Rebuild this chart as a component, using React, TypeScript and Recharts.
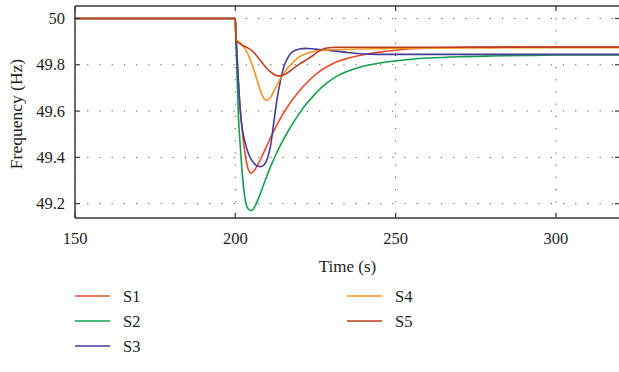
import React from 'react';
import { LineChart, Line, XAxis, YAxis, CartesianGrid } from 'recharts';

const time = [150, 200, 200.2, 200.5, 201, 201.5, 202, 203, 204, 205, 206, 207, 208, 209, 210, 211, 212, 213, 214, 215, 216, 218, 220, 222, 224, 226, 228, 230, 232, 235, 238, 242, 246, 250, 255, 260, 270, 280, 290, 300, 310, 320];

const s1 = [50, 50, 49.93, 49.85, 49.72, 49.62, 49.54, 49.42, 49.35, 49.332, 49.345, 49.368, 49.395, 49.425, 49.455, 49.485, 49.513, 49.54, 49.566, 49.59, 49.612, 49.652, 49.687, 49.718, 49.745, 49.768, 49.787, 49.802, 49.815, 49.828, 49.838, 49.849, 49.857, 49.863, 49.869, 49.872, 49.876, 49.877, 49.878, 49.878, 49.878, 49.878];
const s2 = [50, 50, 49.9, 49.78, 49.57, 49.46, 49.36, 49.225, 49.178, 49.17, 49.185, 49.215, 49.25, 49.288, 49.325, 49.36, 49.392, 49.422, 49.45, 49.477, 49.502, 49.548, 49.59, 49.628, 49.66, 49.69, 49.715, 49.736, 49.753, 49.772, 49.786, 49.8, 49.81, 49.817, 49.824, 49.829, 49.835, 49.838, 49.84, 49.842, 49.842, 49.842];
const s3 = [50, 50, 49.93, 49.85, 49.72, 49.61, 49.54, 49.467, 49.42, 49.39, 49.372, 49.362, 49.36, 49.368, 49.395, 49.45, 49.55, 49.65, 49.725, 49.785, 49.82, 49.858, 49.868, 49.871, 49.869, 49.866, 49.864, 49.861, 49.858, 49.853, 49.849, 49.846, 49.845, 49.845, 49.845, 49.845, 49.845, 49.845, 49.845, 49.845, 49.845, 49.845];
const s4 = [50, 50, 49.908, 49.905, 49.9, 49.895, 49.887, 49.87, 49.845, 49.81, 49.77, 49.725, 49.682, 49.653, 49.647, 49.66, 49.685, 49.712, 49.738, 49.76, 49.78, 49.81, 49.835, 49.848, 49.856, 49.86, 49.863, 49.865, 49.866, 49.867, 49.868, 49.869, 49.87, 49.871, 49.872, 49.872, 49.873, 49.873, 49.874, 49.874, 49.874, 49.874];
const s5 = [50, 50, 49.905, 49.9, 49.895, 49.891, 49.886, 49.879, 49.872, 49.863, 49.85, 49.833, 49.816, 49.798, 49.782, 49.769, 49.759, 49.753, 49.752, 49.756, 49.763, 49.783, 49.803, 49.82, 49.838, 49.858, 49.871, 49.875, 49.876, 49.876, 49.876, 49.876, 49.876, 49.876, 49.876, 49.876, 49.876, 49.876, 49.876, 49.876, 49.876, 49.876];

const seriesNames = ['S1', 'S2', 'S3', 'S4', 'S5'];
const seriesKeys = ['s1', 's2', 's3', 's4', 's5'];
const seriesColors = ['#ef4a2c', '#13a04c', '#433d98', '#f7931e', '#bb3f22'];

const xTicks = [150, 200, 250, 300];
const yTicks = [49.2, 49.4, 49.6, 49.8, 50];

const data = time.map((t, i) => ({ t, s1: s1[i], s2: s2[i], s3: s3[i], s4: s4[i], s5: s5[i] }));

const FONT = 'Liberation Serif';
const AXIS = '#3a3a3a';
const TXT = '#1e1e1e';

const LeftTick = (p: any) => (
  <g>
    <line x1={p.x + 10} x2={p.x + 15} y1={p.y} y2={p.y} stroke={AXIS} strokeWidth={1.2} />
    <text x={p.x} y={p.y} textAnchor="end" dominantBaseline="central" fontFamily={FONT} fontSize={16.5} fill={TXT}>
      {p.payload.value}
    </text>
  </g>
);
const RightTick = (p: any) => (
  <line x1={p.x - 5} x2={p.x} y1={p.y} y2={p.y} stroke={AXIS} strokeWidth={1.2} />
);
const BottomTick = (p: any) => (
  <g>
    <line x1={p.x} x2={p.x} y1={p.y - 5} y2={p.y} stroke={AXIS} strokeWidth={1.2} />
    <text x={p.x} y={p.y + 20} textAnchor="middle" dominantBaseline="central" fontFamily={FONT} fontSize={16.5} fill={TXT}>
      {p.payload.value}
    </text>
  </g>
);
const TopTick = (p: any) => (
  <line x1={p.x} x2={p.x} y1={p.y} y2={p.y + 5} stroke={AXIS} strokeWidth={1.2} />
);

const XLabel = (p: any) => {
  const vb = p.viewBox;
  return (
    <text x={vb.x + vb.width / 2} y={vb.y + 48} textAnchor="middle" dominantBaseline="central" fontFamily={FONT} fontSize={17} fill={TXT}>
      Time (s)
    </text>
  );
};
const YLabel = (p: any) => {
  const vb = p.viewBox;
  const cx = 16;
  const cy = vb.y + vb.height / 2 + 2;
  return (
    <text x={cx} y={cy} transform={`rotate(-90 ${cx} ${cy})`} textAnchor="middle" dominantBaseline="central" fontFamily={FONT} fontSize={17.5} fill={TXT}>
      Frequency (Hz)
    </text>
  );
};

const legendPos = [
  { lx: 75, ly: 296 },
  { lx: 75, ly: 321 },
  { lx: 75, ly: 346 },
  { lx: 347, ly: 296 },
  { lx: 347, ly: 321 },
];

export default function App() {
  return (
    <div style={{ position: 'absolute', left: 0, top: 0, width: 619, height: 372, overflow: 'hidden', background: '#fff' }}>
      <LineChart width={630} height={278} data={data} margin={{ top: 0, right: 0, left: 0, bottom: 0 }}>
        <CartesianGrid stroke="#555" strokeDasharray="1.2 11" verticalValues={xTicks} horizontalValues={yTicks} />
        <XAxis
          dataKey="t"
          type="number"
          domain={[150, 320]}
          ticks={xTicks}
          allowDataOverflow
          height={60}
          tickSize={0}
          tickMargin={0}
          tickLine={false}
          axisLine={{ stroke: AXIS, strokeWidth: 1.5 }}
          tick={<BottomTick />}
          label={<XLabel />}
        />
        <XAxis
          xAxisId="top"
          orientation="top"
          dataKey="t"
          type="number"
          domain={[150, 320]}
          ticks={xTicks}
          allowDataOverflow
          height={6}
          tickSize={0}
          tickMargin={0}
          tickLine={false}
          axisLine={{ stroke: AXIS, strokeWidth: 1.5 }}
          tick={<TopTick />}
        />
        <YAxis
          type="number"
          domain={[49.138, 50.054]}
          ticks={yTicks}
          allowDataOverflow
          width={75}
          tickSize={0}
          tickMargin={10}
          tickLine={false}
          axisLine={{ stroke: AXIS, strokeWidth: 1.5 }}
          tick={<LeftTick />}
          label={<YLabel />}
        />
        <YAxis
          yAxisId="right"
          orientation="right"
          type="number"
          domain={[49.138, 50.054]}
          ticks={yTicks}
          allowDataOverflow
          width={10}
          tickSize={0}
          tickMargin={0}
          tickLine={false}
          axisLine={{ stroke: AXIS, strokeWidth: 1.5 }}
          tick={<RightTick />}
        />
        {seriesKeys.map((k, i) => (
          <Line
            key={k}
            dataKey={k}
            name={seriesNames[i]}
            type="monotone"
            stroke={seriesColors[i]}
            strokeWidth={1.6}
            dot={false}
            isAnimationActive={false}
          />
        ))}
      </LineChart>
      <svg width={619} height={94} style={{ position: 'absolute', left: 0, top: 278 }}>
        {seriesNames.map((n, i) => {
          const { lx, ly } = legendPos[i];
          return (
            <g key={n}>
              <line x1={lx} x2={lx + 35} y1={ly - 278} y2={ly - 278} stroke={seriesColors[i]} strokeWidth={1.5} />
              <text x={lx + 48} y={ly - 278} dominantBaseline="central" fontFamily={FONT} fontSize={16.5} fill={TXT}>
                {n}
              </text>
            </g>
          );
        })}
      </svg>
    </div>
  );
}
